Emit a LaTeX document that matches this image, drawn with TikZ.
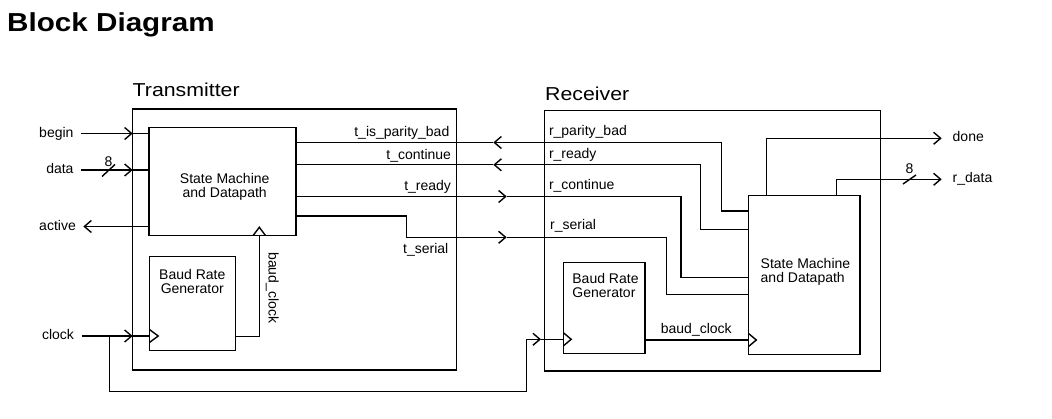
\documentclass[tikz,border=0pt]{standalone}
\usepackage{fontspec}
\setmainfont{Liberation Sans}
\newfontfamily\headfont{Liberation Sans}[FakeStretch=1.14]
\usetikzlibrary{arrows.meta}
\begin{document}
\begin{tikzpicture}[x=1pt,y=-1pt,
  line width=1.4pt,
  box/.style={draw, rectangle, inner sep=0pt, outer sep=0pt, anchor=north west},
  txt/.style={inner sep=0pt, font=\fontsize{14}{14}\selectfont},
  lbl/.style={txt, text height=10pt, text depth=2.74pt},
  inlbl/.style={lbl, anchor=east, outer xsep=7.5pt},
  outlbl/.style={lbl, anchor=west, outer xsep=11pt},
  arr/.style={-{Straight Barb[length=7pt,width=12pt]}},
  head/.style={inner sep=0pt, anchor=base west, font=\headfont\fontsize{18.7}{20}\selectfont},
]
\fill[white] (0,0) rectangle (1052,419);
\useasboundingbox (0,0) rectangle (1052,419);

% title and headings
\node[inner sep=0pt, anchor=base west, font=\headfont\bfseries\fontsize{26}{30}\selectfont] (title) at (6.5,31.7) {Block Diagram};
\node[head] (txhead) at (132,96.7) {Transmitter};
\node[head] (rxhead) at (544.5,100.5) {Receiver};

% boxes
\node[box, minimum width=324pt, minimum height=261pt] (tx) at (132.7,109) {};
\node[box, minimum width=147pt, minimum height=108pt] (txsm) at (149,127.3) {};
\node[box, minimum width=86pt, minimum height=94pt] (txbrg) at (149.7,256.7) {};
\node[box, minimum width=336.4pt, minimum height=260.5pt] (rx) at (544.3,110.7) {};
\node[box, minimum width=111.7pt, minimum height=158.6pt] (rxsm) at (748.3,195.7) {};
\node[box, minimum width=81.5pt, minimum height=90.6pt] (rxbrg) at (563.5,262.7) {};

% box texts
\node[txt, align=center] (txsmt) at (224.7,186.6) {State Machine\\and Datapath};
\node[txt, align=center] (txbrgt) at (192.3,281.5) {Baud Rate\\Generator};
\node[txt, align=left, anchor=west] (rxsmt) at (760,271.6) {State Machine\\and Datapath};
\node[txt, align=left, anchor=west] (rxbrgt) at (571.7,285.2) {Baud Rate\\Generator};

% external labels
\node[inlbl] (begin) at (81,133.5) {begin};
\node[inlbl] (data) at (81,170) {data};
\node[inlbl] (active) at (83.3,226.5) {active};
\node[inlbl] (clock) at (81.5,336) {clock};
\node[outlbl] (done) at (941.7,138.3) {done};
\node[outlbl] (rdata) at (941.7,179.3) {r\_data};

% signal labels
\node[txt, anchor=base east] (ltpb) at (450,136.5) {t\_is\_parity\_bad};
\node[txt, anchor=base east] (ltct) at (451.7,160) {t\_continue};
\node[txt, anchor=base east] (ltrd) at (451.7,191) {t\_ready};
\node[txt, anchor=base east] (ltsr) at (449,254) {t\_serial};
\node[txt, anchor=base west] (lrpb) at (548.3,136) {r\_parity\_bad};
\node[txt, anchor=base west] (lrrd) at (548.3,158.3) {r\_ready};
\node[txt, anchor=base west] (lrct) at (548.3,190) {r\_continue};
\node[txt, anchor=base west] (lrsr) at (549.5,229.3) {r\_serial};
\node[txt, anchor=base] (lrbc) at (696.3,333.5) {baud\_clock};
\node[txt, anchor=base west, rotate=-90] (ltbc) at (268.5,251.7) {baud\_clock};
\node[txt, anchor=base] (data8) at (108.5,166.5) {8};
\node[txt, anchor=base] (rdata8) at (909.5,174) {8};

% TX inputs / outputs
\draw[arr] (begin.east) -- (begin.east -| tx.west);
\draw (begin.east -| tx.west) -- (begin.east -| txsm.west);
\draw[arr] (data.east) -- (data.east -| tx.west);
\draw (data.east -| tx.west) -- (data.east -| txsm.west);
\draw (102,176.5) -- (115,164.5);
\draw[arr] (active.east -| txsm.west) -- (active.east);
\draw[arr] (clock.east) -- (clock.east -| tx.west);
\draw (clock.east -| tx.west) -- (clock.east -| txbrg.west);

% clock branch to receiver
\coordinate (clkbr) at (109.3,336);
\coordinate (clkbot) at (526.7,391.7);
\coordinate (rclk) at (526.7,339.3);
\coordinate (rclktip) at (541,339.3);
\draw (clkbr) |- (clkbot) -- (rclk);
\draw[arr] (rclk) -- (rclktip);
\draw (rclktip) -- (rclktip -| rxbrg.west);

% TX baud clock
\coordinate (tbaud) at (259.3,336.5);
\draw (tbaud -| txbrg.east) -- (tbaud) -- (tbaud |- txsm.south);

% clock triangles
\draw (149.7,329.7) -- (158.2,336) -- (149.7,342.3);
\draw (253.3,235.3) -- (259.3,227.3) -- (265.3,235.3);
\draw (563.5,332.8) -- (571.2,339.3) -- (563.5,345.8);
\draw (748.3,333.3) -- (756.3,340) -- (748.3,346.7);

% interconnect: parity bad
\coordinate (pbL) at (493.3,142.5);
\coordinate (pbK) at (721.7,142.5);
\coordinate (pbS) at (721.7,211);
\draw[arr] (pbS -| rxsm.west) -- (pbS) -- (pbK) -- (pbL);
\draw (pbL) -- (pbL -| txsm.east);

% ready
\coordinate (rdL) at (493.3,164.8);
\coordinate (rdK) at (700.7,164.8);
\coordinate (rdS) at (700.7,229.3);
\draw[arr] (rdS -| rxsm.west) -- (rdS) -- (rdK) -- (rdL);
\draw (rdL) -- (rdL -| txsm.east);

% continue
\coordinate (ctR) at (506.7,196.5);
\coordinate (ctK) at (681,196.5);
\coordinate (ctS) at (681,277.3);
\draw[arr] (ctR -| txsm.east) -- (ctR);
\draw (ctR) -- (ctK) -- (ctS) -- (ctS -| rxsm.west);

% serial
\coordinate (srA) at (406.7,216);
\coordinate (srB) at (406.7,237.3);
\coordinate (srR) at (506.7,237.3);
\coordinate (srK) at (666.7,237.3);
\coordinate (srS) at (666.7,294.3);
\draw[arr] (srA -| txsm.east) -- (srA) -- (srB) -- (srR);
\draw (srR) -- (srK) -- (srS) -- (srS -| rxsm.west);

% RX baud clock
\coordinate (rbaud) at (0,340);
\draw (rbaud -| rxbrg.east) -- (rbaud -| rxsm.west);

% RX outputs
\coordinate (dnK) at (766.7,138.3);
\draw[arr] (dnK |- rxsm.north) -- (dnK) -- (done.west);
\coordinate (rdtK) at (836.7,179.3);
\draw[arr] (rdtK |- rxsm.north) -- (rdtK) -- (rdata.west);
\draw (903,184) -- (916,175);
\end{tikzpicture}
\end{document}
